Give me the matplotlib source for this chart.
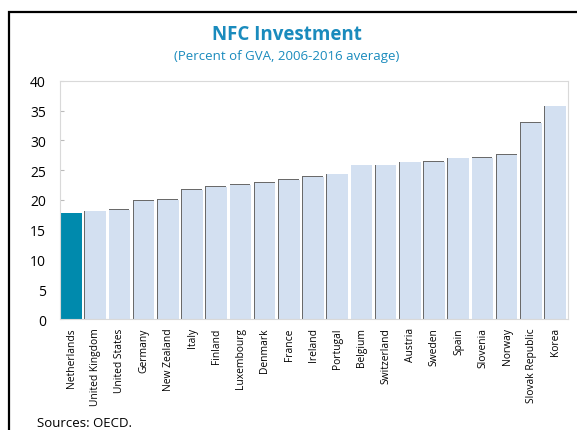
import numpy as np
import matplotlib.pyplot as plt
from matplotlib.patches import Rectangle

countries = ['Netherlands', 'United Kingdom', 'United States', 'Germany', 'New Zealand',
             'Italy', 'Finland', 'Luxembourg', 'Denmark', 'France', 'Ireland', 'Portugal',
             'Belgium', 'Switzerland', 'Austria', 'Sweden', 'Spain', 'Slovenia', 'Norway',
             'Slovak Republic', 'Korea']
values = [17.8, 18.1, 18.3, 19.9, 20.0, 21.7, 22.2, 22.5, 22.9, 23.4, 23.9, 24.3,
          25.8, 25.8, 26.3, 26.4, 27.0, 27.1, 27.6, 32.9, 35.7]

plt.rcParams['font.family'] = ['Open Sans', 'DejaVu Sans']
blue = '#1a8bbd'

fig = plt.figure(figsize=(5.77, 4.31), dpi=100)
ax = fig.add_axes([0.104, 0.2575, 0.88, 0.5525])

x = np.arange(len(values))
w = 0.86
colors = ['#008aad'] + ['#d3e0f1'] * (len(values) - 1)
# thin dark shadow behind the light bars (left and top edge)
for i in range(1, len(values)):
    ax.bar(x[i] - 0.035, values[i] + 0.12, w, color='#6a6a6a', zorder=1, linewidth=0)
ax.bar(x, values, w, color=colors, zorder=2, linewidth=0)

ax.set_xlim(-0.47, 20.51)
ax.set_ylim(0, 40)
ax.set_yticks(np.arange(0, 41, 5))
ax.set_xticks(x)
ax.set_xticklabels(countries, rotation=90, fontsize=7.4)
ax.tick_params(axis='y', direction='in', length=3, color='#bbbbbb', labelsize=10, pad=10)
ax.tick_params(axis='x', length=0, pad=6)
for s in ax.spines.values():
    s.set_color('#d9d9d9')
    s.set_linewidth(0.8)

fig.text(0.497, 0.918, 'NFC Investment', ha='center', va='center', fontsize=13.5,
         fontweight='bold', color=blue)
fig.text(0.497, 0.87, '(Percent of GVA, 2006-2016 average)', ha='center', va='center',
         fontsize=9.5, color=blue)
fig.text(0.064, 0.017, 'Sources: OECD.', ha='left', va='center', fontsize=9.5)

fig.patches.append(Rectangle((0.016, -0.05), 1.1, 1.02, transform=fig.transFigure,
                             fill=False, edgecolor='black', linewidth=1.6))

fig.savefig('out.png', dpi=100)
